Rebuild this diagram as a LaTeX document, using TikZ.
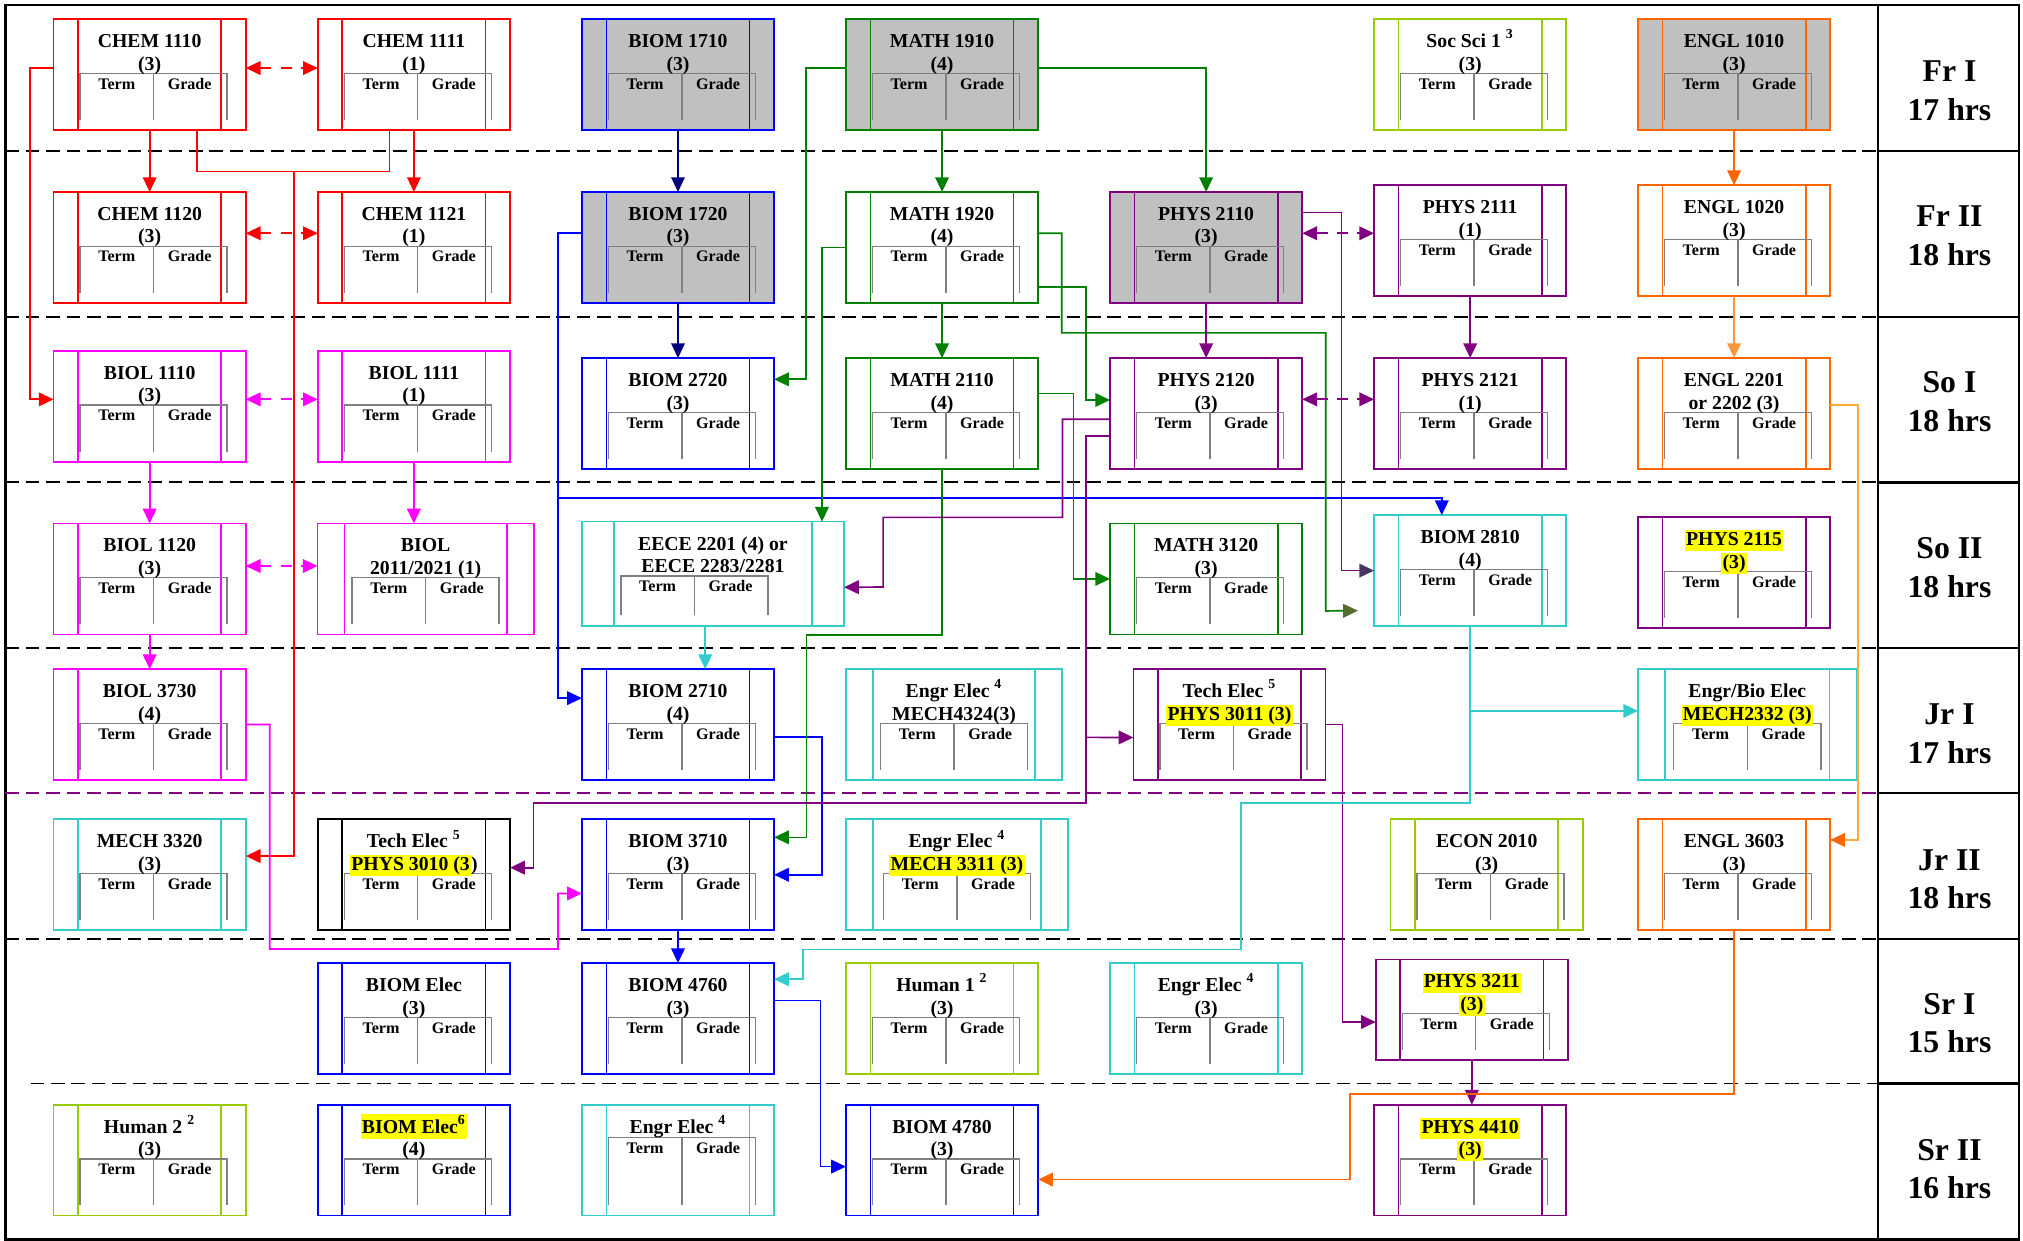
\documentclass[tikz,border=0pt]{standalone}
\usepackage{fontspec}
\setmainfont{Liberation Serif}
\usetikzlibrary{arrows.meta}

\definecolor{cred}{RGB}{255,0,0}
\definecolor{cmag}{RGB}{255,0,255}
\definecolor{cblue}{RGB}{0,0,255}
\definecolor{cnavy}{RGB}{0,0,128}
\definecolor{cgreen}{RGB}{0,128,0}
\definecolor{cpurple}{RGB}{128,0,128}
\definecolor{corange}{RGB}{255,102,0}
\definecolor{clorange}{RGB}{250,150,60}
\definecolor{cgold}{RGB}{255,170,50}
\definecolor{ccyan}{RGB}{51,204,204}
\definecolor{clime}{RGB}{153,204,0}
\definecolor{silver}{RGB}{192,192,192}
\definecolor{hlyellow}{RGB}{255,255,0}
\definecolor{colive}{RGB}{85,107,47}
\definecolor{cindigo}{RGB}{72,55,100}
\definecolor{tblgray}{RGB}{128,128,128}

\setlength{\fboxsep}{0.6pt}
\newcommand{\hl}[1]{\colorbox{hlyellow}{\vphantom{(}#1}}
\newcommand{\tabdx}{0.06cm}
\newcommand{\tabtop}{0.84cm}
\newcommand{\inset}{0.38cm}

% one course: box, side bars, term/grade table
\newcommand{\course}[6][]{%
  \node[box, draw=#4, #1] (#2) at (#3) {};
  \draw[side, #4] ([xshift=\inset]#2.north west) -- ([xshift=\inset]#2.south west);
  \draw[side, #4] ([xshift=-\inset]#2.north east) -- ([xshift=-\inset]#2.south east);
  \draw[tbl] ([xshift=\tabdx-1.14cm, yshift=0.16cm]#2.south) |- ([xshift=\tabdx+1.14cm, yshift=-\tabtop]#2.north) -- ([xshift=\tabdx+1.14cm, yshift=0.16cm]#2.south);
  \draw[tbl] ([xshift=\tabdx, yshift=-\tabtop]#2.north) -- ([xshift=\tabdx, yshift=0.16cm]#2.south);
  \node[ttl] (#2-a) at ([yshift=-0.44cm]#2.north) {#5};
  \node[ttl] (#2-b) at ([yshift=-0.79cm]#2.north) {#6};
  \node[tg] (#2-t) at ([xshift=\tabdx-0.57cm, yshift=-\tabtop-0.245cm]#2.north) {Term};
  \node[tg] (#2-g) at ([xshift=\tabdx+0.56cm, yshift=-\tabtop-0.245cm]#2.north) {Grade};
}

\tikzset{
  box/.style={rectangle, line width=0.75pt, minimum width=2.98cm, minimum height=1.72cm, inner sep=0pt, outer sep=0pt},
  side/.style={line width=0.75pt},
  tbl/.style={draw=tblgray, line width=0.6pt},
  ttl/.style={anchor=base, inner sep=0pt, font=\fontsize{8.7}{10}\selectfont\bfseries},
  tg/.style={anchor=base, inner sep=0pt, font=\fontsize{7.1}{8}\selectfont\bfseries},
  wire/.style={line width=0.75pt},
  arr/.style={wire, -{Triangle[length=6.5pt, width=6pt]}},
  dbl/.style={wire, dash pattern=on 5pt off 4pt, {Triangle[length=6.5pt, width=6pt]}-{Triangle[length=6.5pt, width=6pt]}},
  rowline/.style={line width=0.85pt, dash pattern=on 6pt off 3pt},
  sem/.style={align=center, inner sep=0pt, font=\fontsize{14}{17}\selectfont\bfseries},
}

\begin{document}
\begin{tikzpicture}
\useasboundingbox (0,0) rectangle (31.36,-19.222);
% frame, semester column
\draw[line width=1pt] (0.084,-0.078) rectangle (31.3,-19.214);
\draw[line width=1pt] (29.108,-0.078) -- (29.108,-19.214);
\foreach \y in {-2.336,-4.91,-7.478,-10.05,-12.298,-14.556,-16.796}
  \draw[line width=1pt] (29.108,\y) -- (31.3,\y);
\foreach \y in {-2.336,-4.91,-7.478,-10.05,-14.556}
  \draw[rowline] (0.084,\y) -- (29.108,\y);
\draw[rowline, cpurple] (0.084,-12.298) -- (29.108,-12.298);
\draw[rowline] (0.474,-16.796) -- (29.108,-16.796);

\node[sem] (fr1) at (30.22,-1.409) {Fr I\\17 hrs};
\node[sem] (fr2) at (30.22,-3.656) {Fr II\\18 hrs};
\node[sem] (so1) at (30.22,-6.226) {So I\\18 hrs};
\node[sem] (so2) at (30.22,-8.797) {So II\\18 hrs};
\node[sem] (jr1) at (30.22,-11.376) {Jr I\\17 hrs};
\node[sem] (jr2) at (30.22,-13.63) {Jr II\\18 hrs};
\node[sem] (sr1) at (30.22,-15.86) {Sr I\\15 hrs};
\node[sem] (sr2) at (30.22,-18.12) {Sr II\\16 hrs};

% Fr I
\course{chem1110}{2.32,-1.155}{cred}{CHEM 1110}{(3)}
\course{chem1111}{6.416,-1.155}{cred}{CHEM 1111}{(1)}
\course[fill=silver]{biom1710}{10.51,-1.155}{cblue}{BIOM 1710}{(3)}
\course[fill=silver]{math1910}{14.603,-1.155}{cgreen}{MATH 1910}{(4)}
\course{socsci}{22.79,-1.155}{clime}{Soc Sci 1 \textsuperscript{3}}{(3)}
\course[fill=silver]{engl1010}{26.881,-1.155}{corange}{ENGL 1010}{(3)}
% Fr II
\course{chem1120}{2.32,-3.836}{cred}{CHEM 1120}{(3)}
\course{chem1121}{6.416,-3.836}{cred}{CHEM 1121}{(1)}
\course[fill=silver]{biom1720}{10.51,-3.836}{cblue}{BIOM 1720}{(3)}
\course{math1920}{14.603,-3.836}{cgreen}{MATH 1920}{(4)}
\course[fill=silver]{phys2110}{18.697,-3.836}{cpurple}{PHYS 2110}{(3)}
\course{phys2111}{22.79,-3.729}{cpurple}{PHYS 2111}{(1)}
\course{engl1020}{26.881,-3.729}{corange}{ENGL 1020}{(3)}
% So I
\course{biol1110}{2.32,-6.30}{cmag}{BIOL 1110}{(3)}
\course{biol1111}{6.416,-6.30}{cmag}{BIOL 1111}{(1)}
\course{biom2720}{10.51,-6.41}{cblue}{BIOM 2720}{(3)}
\course{math2110}{14.603,-6.41}{cgreen}{MATH 2110}{(4)}
\course{phys2120}{18.697,-6.41}{cpurple}{PHYS 2120}{(3)}
\course{phys2121}{22.79,-6.41}{cpurple}{PHYS 2121}{(1)}
\course{engl2201}{26.881,-6.41}{corange}{ENGL 2201}{or 2202 (3)}
% So II
\course{biol1120}{2.32,-8.974}{cmag}{BIOL 1120}{(3)}
\begin{scope}
\renewcommand{\tabdx}{0cm}\renewcommand{\inset}{0.42cm}
\course[minimum width=3.352cm]{biol2011}{6.598,-8.974}{cmag}{BIOL}{2011/2021 (1)}
\end{scope}
\begin{scope}
\renewcommand{\tabdx}{-0.288cm}\renewcommand{\inset}{0.5cm}
\course[minimum width=4.064cm, minimum height=1.614cm]{eece}{11.052,-8.893}{ccyan}{EECE 2201 (4) or}{EECE 2283/2281}
\end{scope}
\course{math3120}{18.697,-8.974}{cgreen}{MATH 3120}{(3)}
\course{biom2810}{22.79,-8.845}{ccyan}{BIOM 2810}{(4)}
\course{phys2115}{26.881,-8.875}{cpurple}{\hl{PHYS 2115}}{\hl{(3)}}
% Jr I
\course{biol3730}{2.32,-11.232}{cmag}{BIOL 3730}{(4)}
\course{biom2710}{10.51,-11.232}{cblue}{BIOM 2710}{(4)}
\begin{scope}
\renewcommand{\tabdx}{0cm}\renewcommand{\inset}{0.42cm}
\course[minimum width=3.352cm]{engra}{14.79,-11.232}{ccyan}{Engr Elec \textsuperscript{4}}{MECH4324(3)}
\course[minimum width=3.388cm]{engrbio}{27.086,-11.232}{ccyan}{Engr/Bio Elec}{\hl{MECH2332 (3)}}
\end{scope}
\course{tech3011}{19.059,-11.232}{cpurple}{Tech Elec \textsuperscript{5}}{\hl{PHYS 3011 (3)}}
% Jr II
\course{mech3320}{2.32,-13.56}{ccyan}{MECH 3320}{(3)}
\course{tech3010}{6.416,-13.56}{black}{Tech Elec \textsuperscript{5}}{\hl{PHYS 3010 (3})}
\course{biom3710}{10.51,-13.56}{cblue}{BIOM 3710}{(3)}
\begin{scope}
\renewcommand{\tabdx}{0cm}\renewcommand{\inset}{0.42cm}
\course[minimum width=3.442cm]{engrb}{14.835,-13.56}{ccyan}{Engr Elec \textsuperscript{4}}{\hl{MECH 3311 (3)}}
\end{scope}
\course{econ2010}{23.046,-13.56}{clime}{ECON 2010}{(3)}
\course{engl3603}{26.881,-13.56}{corange}{ENGL 3603}{(3)}
% Sr I
\course{biomelec}{6.416,-15.789}{cblue}{BIOM Elec}{(3)}
\course{biom4760}{10.51,-15.789}{cblue}{BIOM 4760}{(3)}
\course{human1}{14.603,-15.789}{clime}{Human 1 \textsuperscript{2}}{(3)}
\course{engrc}{18.697,-15.789}{ccyan}{Engr Elec \textsuperscript{4}}{(3)}
\course[minimum height=1.562cm]{phys3211}{22.816,-15.653}{cpurple}{\hl{PHYS 3211}}{\hl{(3)}}
% Sr II
\course{human2}{2.32,-17.984}{clime}{Human 2 \textsuperscript{2}}{(3)}
\course{biomelecb}{6.416,-17.984}{cblue}{\hl{BIOM Elec\textsuperscript{6}}}{(4)}
\begin{scope}
\renewcommand{\tabtop}{0.51cm}
\course{engrd}{10.51,-17.984}{ccyan}{Engr Elec \textsuperscript{4}}{}
\end{scope}
\course{biom4780}{14.603,-17.984}{cblue}{BIOM 4780}{(3)}
\course{phys4410}{22.79,-17.984}{cpurple}{\hl{PHYS 4410}}{\hl{(3)}}

% chemistry and biology
\draw[dbl, cred] ([yshift=0.1cm]chem1110.east) -- ([yshift=0.1cm]chem1111.west);
\draw[dbl, cred] ([yshift=0.22cm]chem1120.east) -- ([yshift=0.22cm]chem1121.west);
\draw[arr, cred] (chem1110.south) -- (chem1120.north);
\draw[arr, cred] (chem1111.south) -- (chem1121.north);
\draw[arr, cred] ([yshift=0.1cm]chem1110.west) -- ++(-0.37,0) |- ([yshift=0.11cm]biol1110.west);
\coordinate (chemJ) at (4.554,-2.656);
\draw[wire, cred] ([xshift=0.73cm]chem1110.south) |- (chemJ) -| ([xshift=-0.38cm]chem1111.south);
\draw[arr, cred] (chemJ) |- ([yshift=0.29cm]mech3320.east);
\draw[dbl, cmag] ([yshift=0.11cm]biol1110.east) -- ([yshift=0.11cm]biol1111.west);
\draw[dbl, cmag] ([yshift=0.2cm]biol1120.east) -- ([yshift=0.2cm]biol2011.west);
\draw[arr, cmag] (biol1110.south) -- (biol1120.north);
\draw[arr, cmag] (biol1111.south) -- (biol1111.south |- biol2011.north);
\draw[arr, cmag] (biol1120.south) -- (biol3730.north);
\draw[arr, cmag] (biol3730.east) -| (4.18,-14.71) -| (8.65,-13.85) -- ([yshift=-0.29cm]biom3710.west);

% biomedical
\draw[arr, cnavy] (biom1710.south) -- (biom1720.north);
\draw[arr, cnavy] (biom1720.south) -- (biom2720.north);
\coordinate (biomJ) at (8.65,-7.716);
\draw[arr, cblue] ([yshift=0.22cm]biom1720.west) -| (biomJ) |- ([yshift=0.41cm]biom2710.west);
\draw[arr, cblue] (biomJ) -| ([xshift=-0.44cm]biom2810.north);
\draw[arr, cblue] ([yshift=-0.19cm]biom2710.east) -- ++(0.74,0) |- (biom3710.east);
\draw[arr, cblue] (biom3710.south) -- (biom4760.north);
\draw[arr, cblue] ([yshift=0.28cm]biom4760.east) -- ++(0.72,0) |- ([yshift=-0.1cm]biom4780.west);

% math
\draw[arr, cgreen] (math1910.south) -- (math1920.north);
\draw[arr, cgreen] ([yshift=0.1cm]math1910.west) -- ++(-0.62,0) |- ([yshift=0.53cm]biom2720.east);
\draw[arr, cgreen] ([yshift=0.1cm]math1910.east) -| (phys2110.north);
\draw[arr, cgreen] (math1920.west) -| ([xshift=1.69cm]eece.north);
\draw[arr, cgreen] (math1920.south) -- (math2110.north);
\draw[wire, cgreen, -{Triangle[length=6.5pt, width=6pt, color=colive]}, shorten >=0.25cm] ([yshift=0.22cm]math1920.east) -| (16.46,-5.16) -| (20.55,-9.47) -- ([yshift=-0.62cm]biom2810.west);
\draw[arr, cgreen] ([yshift=-0.61cm]math1920.east) -- ++(0.74,0) |- ([yshift=0.21cm]phys2120.west);
\draw[arr, cgreen] ([yshift=0.31cm]math2110.east) -- ++(0.55,0) |- (math3120.west);
\draw[arr, cgreen] (math2110.south) |- (12.5,-9.84) |- ([yshift=0.58cm]biom3710.east);

% physics
\draw[arr, cpurple] (phys2110.south) -- (phys2120.north);
\draw[dbl, cpurple] ([yshift=0.22cm]phys2110.east) -- ([yshift=0.22cm]phys2110.east -| phys2111.west);
\draw[dbl, cpurple] ([yshift=0.22cm]phys2120.east) -- ([yshift=0.22cm]phys2121.west);
\draw[arr, cpurple] (phys2111.south) -- (phys2121.north);
\draw[wire, cpurple, -{Triangle[length=6.5pt, width=6pt, color=cindigo]}] ([yshift=0.54cm]phys2110.east) -- ++(0.61,0) |- (biom2810.west);
\draw[arr, cpurple] ([yshift=-0.09cm]phys2120.west) -| (16.47,-8.02) -| (13.69,-9.1) -- ([yshift=-0.21cm]eece.east);
\coordinate (physJ) at (16.84,-11.43);
\draw[arr, cpurple] ([yshift=-0.35cm]phys2120.west) -| (physJ) |- (8.27,-12.45) |- ([yshift=0.11cm]tech3010.east);
\draw[arr, cpurple] (physJ) -- ([yshift=-0.2cm]tech3011.west);
\draw[arr, cpurple] (tech3011.east) -- ++(0.26,0) |- ([yshift=-0.19cm]phys3211.west);
\draw[arr, cpurple] (phys3211.south) -- (phys3211.south |- phys4410.north);

% english
\draw[arr, corange] (engl1010.south) -- (engl1020.north);
\draw[arr, clorange] (engl1020.south) -- (engl2201.north);
\draw[wire, cgold, -{Triangle[length=6.5pt, width=6pt, color=corange]}] ([yshift=0.13cm]engl2201.east) -- ++(0.43,0) |- ([yshift=0.54cm]engl3603.east);
\draw[arr, corange] (engl3603.south) |- (20.93,-16.96) |- ([yshift=-0.3cm]biom4780.east);

% engineering
\draw[arr, ccyan] ([xshift=-0.12cm]eece.south) -- ([xshift=-0.12cm]eece.south |- biom2710.north);
\coordinate (biomK) at (22.79,-11.02);
\draw[wire, ccyan] (biom2810.south) -- (biomK);
\draw[arr, ccyan] (biomK) -- (biomK -| engrbio.west);
\draw[arr, ccyan] (biomK) |- (19.24,-12.45) |- (12.45,-14.72) |- ([yshift=0.61cm]biom4760.east);
\end{tikzpicture}
\end{document}
